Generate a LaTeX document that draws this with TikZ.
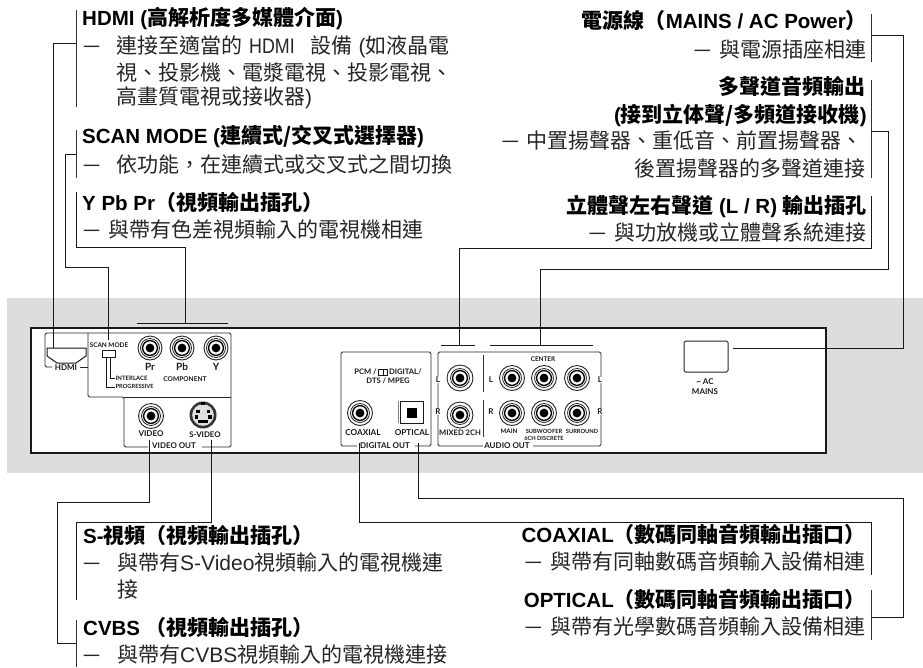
\documentclass[tikz,border=0pt]{standalone}
\usepackage{fontspec}
\setmainfont{Liberation Sans}
\newfontfamily\cjk{Noto Sans CJK TC}
\newfontfamily\lato{Lato}
\newcommand{\cj}[1]{{\cjk\fontsize{21}{24}\selectfont #1}}
\newcommand{\yi}{{\cjk\fontsize{17}{24}\selectfont 一}}
\newcommand{\dolby}{{\setlength{\fboxsep}{0pt}\setlength{\fboxrule}{.6pt}\fbox{\rule{0pt}{5pt}\hspace{3.5pt}}\fbox{\rule{0pt}{5pt}\hspace{3.5pt}}}}
\definecolor{bandgray}{RGB}{220,221,223}
\usetikzlibrary{shapes}
\tikzstyle{ttl}=[inner sep=0pt,text height=16pt,text depth=5pt,text=black,font=\fontsize{20.5}{24}\selectfont\bfseries]
\tikzstyle{txt}=[inner sep=0pt,text height=16pt,text depth=5pt,text=black!85,font=\fontsize{21}{24}\selectfont]
\tikzstyle{lab}=[inner sep=.5pt,text=black!90,font=\lato\bfseries\fontsize{7.6}{9}\selectfont]
\tikzstyle{big}=[inner sep=.5pt,text=black!90,font=\lato\bfseries\fontsize{10}{12}\selectfont]
\tikzstyle{tiny}=[inner sep=.5pt,text=black!90,font=\lato\bfseries\fontsize{5.7}{7}\selectfont]
\tikzstyle{grp}=[inner sep=.5pt,text=black!90,font=\lato\bfseries\fontsize{8}{10}\selectfont]
\tikzstyle{conn}=[line width=.9pt,black!90]
\tikzstyle{rul}=[line width=.8pt,black!80]
\tikzstyle{box}=[line width=.8pt,black!85,rounded corners=1.5pt]
\tikzstyle{jack}=[circle,draw=black!85,line width=.9pt,fill=white,minimum size=24pt,inner sep=0pt,
  path picture={\coordinate (c) at (path picture bounding box.center);
    \draw[black!85,line width=.8pt] (c) circle[radius=9.5pt];
    \draw[black,line width=1.3pt] (c) circle[radius=7.4pt];
    \fill[black] (c) circle[radius=4.4pt];}]
\begin{document}
\begin{tikzpicture}[x=1pt,y=-1pt]
\useasboundingbox (0,0) rectangle (923,667);
\fill[white] (0,0) rectangle (923,667);
\fill[bandgray] (7,298) rectangle (923,473);
\draw[line width=1.2pt,black!90,fill=white] (31,328) rectangle (826,453);
% hdmi and component boxes
\draw[box] (88,333) -- (45,333) -- (45,367) -- (52,367);
\draw[box] (80,367) -- (88,367);
\draw[box] (88,333) -- (231,333) -- (231,447) -- (202,447);
\draw[box] (88,333) -- (88,397) -- (124,397) -- (124,447) -- (148,447);
\draw[box] (124,397) -- (231,397);
\draw[line width=1pt,black!90] (47,348) -- (86,348) -- (86,356) -- (76,363) -- (57,363) -- (47,356) -- cycle;
\draw[line width=.9pt,black!90] (102,350) rectangle (115,357);
\draw[line width=.7pt,black!90] (110,357) |- (115,378);
\draw[line width=.7pt,black!90] (106,357) |- (115,387);
\node[grp] (hdmiLab) at (66,367.5) {HDMI};
\node[lab,font=\lato\bfseries\fontsize{6.4}{8}\selectfont] (scanLab) at (109,345) {SCAN MODE};
\node[tiny,anchor=west,font=\lato\bfseries\fontsize{6}{8}\selectfont] (interLab) at (115,378) {INTERLACE};
\node[tiny,anchor=west] (progLab) at (115,386.5) {PROGRESSIVE};
\node[jack] (prJack) at (150,348) {};
\node[jack] (pbJack) at (182,348) {};
\node[jack] (yJack) at (216,348) {};
\node[big] (prLab) at (150,367) {Pr};
\node[big] (pbLab) at (182,367) {Pb};
\node[big] (yLab) at (216,367) {Y};
\node[lab,font=\lato\bfseries\fontsize{6.6}{8}\selectfont] (compLab) at (185,379) {COMPONENT};
% video out
\node[jack,minimum size=25pt] (videoJack) at (151,416) {};
\fill[black!80] (203,415) circle[radius=13.5pt];
\fill[black!12] (203,415) circle[radius=10.8pt];
\fill[black] (196,409.5) rectangle (199.5,413);
\fill[black] (206.5,409.5) rectangle (210,413);
\fill[black] (194.5,415) rectangle (198,418.5);
\fill[black] (208,415) rectangle (211.5,418.5);
\fill[black] (198,420) rectangle (208,423);
\fill[black] (201,402) rectangle (205,405);
\node[lab,font=\lato\bfseries\fontsize{8}{10}\selectfont] (videoLab) at (151,434) {VIDEO};
\node[lab,font=\lato\bfseries\fontsize{7.8}{10}\selectfont] (svideoLab) at (205,435) {S-VIDEO};
\node[grp,font=\lato\bfseries\fontsize{7.9}{10}\selectfont] (videoOut) at (174,446) {VIDEO OUT};
% digital out
\draw[box] (357,446) -- (341,446) -- (341,352) -- (431,352) -- (431,446) -- (415,446);
\node[lab] (pcmLab) at (388,372) {PCM / \dolby\,DIGITAL/};
\node[lab] (dtsLab) at (388,381) {DTS / MPEG};
\node[jack,minimum size=25pt] (coaxJack) at (360,413) {};
\draw[line width=.8pt,black!90] (400,401) rectangle (423,423);
\draw[line width=.6pt,black!50] (398.5,401) -- (398.5,423);
\fill[black] (407,408) rectangle (417,418);
\node[lab,font=\lato\bfseries\fontsize{8.2}{10}\selectfont] (coaxLab) at (363,433) {COAXIAL};
\node[lab,font=\lato\bfseries\fontsize{8.2}{10}\selectfont] (optLab) at (412,433) {OPTICAL};
\node[grp] (digitalOut) at (385,446) {DIGITAL OUT};
% audio out
\draw[box] (483,446) -- (438,446) -- (438,352) -- (601,352) -- (601,446) -- (533,446);
\draw[line width=.7pt,black!80] (483,355) -- (483,392);
\draw[line width=.7pt,black!80] (483,400) -- (483,437);
\node[jack,minimum size=26pt] (mixL) at (460,378) {};
\node[jack,minimum size=26pt] (mixR) at (460,415) {};
\node[jack,minimum size=25pt] (mainL) at (512,378) {};
\node[jack,minimum size=25pt] (mainR) at (512,413) {};
\node[jack,minimum size=25pt] (centerJack) at (544,378) {};
\node[jack,minimum size=25pt] (subJack) at (544,413) {};
\node[jack,minimum size=25pt] (surL) at (577,378) {};
\node[jack,minimum size=25pt] (surR) at (577,413) {};
\node[grp,fill=white] (mixLLab) at (438,380) {L};
\node[grp,fill=white] (mixRLab) at (438,412) {R};
\node[grp] (mainLLab) at (491,380) {L};
\node[grp] (mainRLab) at (491,412) {R};
\node[grp,fill=white] (surLLab) at (600,380) {L};
\node[grp,fill=white] (surRLab) at (600,412) {R};
\node[lab,font=\lato\bfseries\fontsize{6.4}{8}\selectfont] (centerLab) at (543,359) {CENTER};
\node[lab] (mixLab) at (460,433) {MIXED 2CH};
\node[tiny,font=\lato\bfseries\fontsize{6.2}{8}\selectfont] (mainLab) at (509,431) {MAIN};
\node[tiny] (subLab) at (544,431) {SUBWOOFER};
\node[tiny] (sixLab) at (544,438) {6CH DISCRETE};
\node[tiny] (surLab) at (582,431) {SURROUND};
\node[grp] (audioOut) at (507,446) {AUDIO OUT};
% mains
\draw[box,line width=1pt] (684,341) rectangle (728,372);
\node[grp] (acLab) at (705,382) {\textasciitilde\ AC};
\node[grp] (mainsLab) at (705,392) {MAINS};
% texts, left
\node[ttl,anchor=west] (hdmiT) at (82,20) {HDMI (\cj{高解析度多媒體介面})};
\node[txt,anchor=west] (hdmiA) at (83,48) {\yi\hspace{16pt}\cj{連接至適當的}\hspace{7pt}\scalebox{.85}[1]{HDMI}\hspace{16pt}\cj{設備} (\cj{如液晶電}};
\node[txt,anchor=west] (hdmiB) at (116,75) {\cj{視、投影機、電漿電視、投影電視、}};
\node[txt,anchor=west] (hdmiC) at (116,99) {\cj{高畫質電視或接收器})};
\node[ttl,anchor=west] (scanT) at (82,138) {SCAN MODE (\cj{連續式/交叉式選擇器})};
\node[txt,anchor=west] (scanA) at (83,167) {\yi\hspace{16pt}\cj{依功能，在連續式或交叉式之間切換}};
\node[ttl,anchor=west] (ypbT) at (82,205) {Y Pb Pr\cj{（視頻輸出插孔）}};
\node[txt,anchor=west] (ypbA) at (83,232) {\yi\hspace{8pt}\cj{與帶有色差視頻輸入的電視機相連}};
% texts, right
\node[ttl,anchor=east] (mainsT) at (867,23) {\cj{電源線（}MAINS / AC Power\cj{）}};
\node[txt,anchor=east] (mainsA) at (867,52) {\yi\hspace{9pt}\cj{與電源插座相連}};
\node[ttl,anchor=east] (multiT) at (866,89) {\cj{多聲道音頻輸出}};
\node[ttl,anchor=east] (multiU) at (867,117) {(\cj{接到立体聲/多頻道接收機})};
\node[txt,anchor=east] (multiA) at (863,143) {\yi\hspace{8pt}\cj{中置揚聲器、重低音、前置揚聲器、}};
\node[txt,anchor=east] (multiB) at (866,171) {\cj{後置揚聲器的多聲道連接}};
\node[ttl,anchor=east] (stereoT) at (867,208) {\cj{立體聲左右聲道} (L / R) \cj{輸出插孔}};
\node[txt,anchor=east] (stereoA) at (867,235) {\yi\hspace{9pt}\cj{與功放機或立體聲系統連接}};
% texts, bottom
\node[ttl,anchor=west] (svidT) at (83,538) {S-\cj{視頻（視頻輸出插孔）}};
\node[txt,anchor=west] (svidA) at (83,565) {\yi\hspace{17pt}\cj{與帶有}S-Video\cj{視頻輸入的電視機連}};
\node[txt,anchor=west] (svidB) at (117,592) {\cj{接}};
\node[ttl,anchor=west] (cvbsT) at (83,630) {CVBS \cj{（視頻輸出插孔）}};
\node[txt,anchor=west] (cvbsA) at (83,657) {\yi\hspace{17pt}\cj{與帶有}CVBS\cj{視頻輸入的電視機連接}};
\node[ttl,anchor=east] (coaxT) at (866,537) {COAXIAL\cj{（數碼同軸音頻輸出插口）}};
\node[txt,anchor=east] (coaxA) at (866,564) {\yi\hspace{9pt}\cj{與帶有同軸數碼音頻輸入設備相連}};
\node[ttl,anchor=east] (optT) at (866,602) {OPTICAL\cj{（數碼同軸音頻輸出插口）}};
\node[txt,anchor=east] (optA) at (866,629) {\yi\hspace{9pt}\cj{與帶有光學數碼音頻輸入設備相連}};
% rules beside the texts
\coordinate (hdmiTop) at (76,10);
\coordinate (hdmiBot) at (76,107);
\coordinate (hdmiTap) at (76,43);
\coordinate (hdmiPort) at (53,348);
\coordinate (scanTop) at (76,130);
\coordinate (scanBot) at (76,178);
\coordinate (scanTap) at (76,154);
\coordinate (scanBend) at (65,267);
\coordinate (scanPort) at (108,340);
\coordinate (ypbTop) at (76,192);
\coordinate (ypbTap) at (76,247);
\coordinate (compPort) at (185,323);
\coordinate (compL) at (137,323);
\coordinate (compR) at (228,323);
\coordinate (mainsTop) at (871,14);
\coordinate (mainsBot) at (871,62);
\coordinate (mainsTap) at (871,35);
\coordinate (mainsBend) at (903,348);
\coordinate (mainsEnd) at (733,348);
\coordinate (multiTop) at (871,80);
\coordinate (multiBot) at (871,178);
\coordinate (multiTap) at (871,131);
\coordinate (multiBend) at (888,269);
\coordinate (multiPort) at (540,345);
\coordinate (multiL) at (490,345);
\coordinate (multiR) at (593,345);
\coordinate (stereoTop) at (871,196);
\coordinate (stereoTap) at (871,248);
\coordinate (stereoPort) at (459,345);
\coordinate (stereoL) at (441,345);
\coordinate (stereoR) at (475,345);
\coordinate (cvbsPort) at (149,440);
\coordinate (cvbsBend) at (57,502);
\coordinate (cvbsTap) at (76,643);
\coordinate (cvbsTop) at (76,620);
\coordinate (cvbsBot) at (76,667);
\coordinate (svidPort) at (211,440);
\coordinate (svidTop) at (76,522);
\coordinate (svidBot) at (76,600);
\coordinate (coaxPort) at (359,443);
\coordinate (coaxTop) at (871,522);
\coordinate (coaxBot) at (871,575);
\coordinate (optPort) at (418,443);
\coordinate (optBend) at (903,498);
\coordinate (optTap) at (871,617);
\coordinate (optTop) at (871,590);
\coordinate (optBot) at (871,640);
\draw[rul] (hdmiTop) -- (hdmiBot);
\draw[rul] (scanTop) -- (scanBot);
\draw[rul] (mainsTop) -- (mainsBot);
\draw[rul] (multiTop) -- (multiBot);
\draw[rul] (cvbsTop) -- (cvbsBot);
\draw[rul] (optTop) -- (optBot);
% connectors
\draw[conn] (hdmiTap) -| (hdmiPort);
\draw[conn] (scanTap) -| (scanBend) -| (scanPort);
\draw[conn] (ypbTop) -- (ypbTap) -| (compPort);
\draw[conn] (compL) -- (compR);
\draw[conn] (mainsTap) -| (mainsBend) -- (mainsEnd);
\draw[conn] (multiTap) -| (multiBend) -| (multiPort);
\draw[conn] (multiL) -- (multiR);
\draw[conn] (stereoTop) -- (stereoTap) -| (stereoPort);
\draw[conn] (stereoL) -- (stereoR);
\draw[conn] (cvbsPort) |- (cvbsBend) |- (cvbsTap);
\draw[conn] (svidPort) |- (svidTop) -- (svidBot);
\draw[conn] (coaxPort) |- (coaxTop) -- (coaxBot);
\draw[conn] (optPort) |- (optBend) |- (optTap);
\end{tikzpicture}
\end{document}
